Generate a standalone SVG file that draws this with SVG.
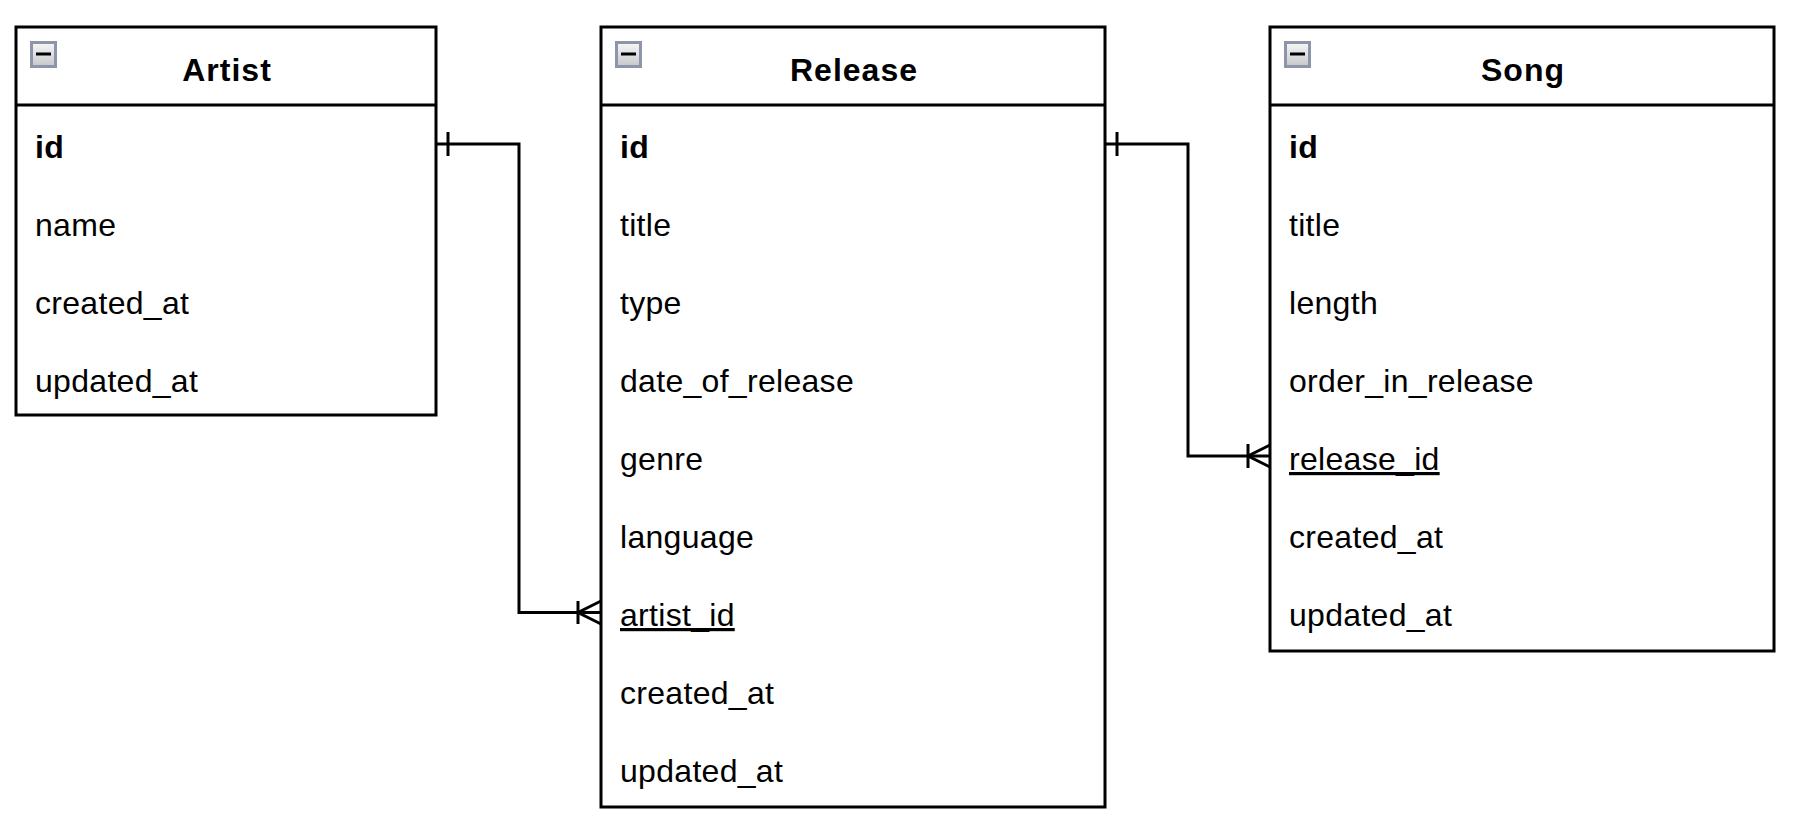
<svg xmlns="http://www.w3.org/2000/svg" width="1798" height="828" viewBox="0 0 1798 828">
  <style>
    .box { fill: #ffffff; stroke: #000000; stroke-width: 3; }
    .sep { stroke: #000000; stroke-width: 3; }
    .title { font-family: "Liberation Sans", Arial, sans-serif; font-size: 32px; font-weight: bold; fill: #000; text-anchor: middle; letter-spacing: 1px; }
    .field { font-family: "Liberation Sans", Arial, sans-serif; font-size: 32px; fill: #000; letter-spacing: 0.3px; }
    .pk { font-weight: bold; }
    .fk { text-decoration: underline; }
    .icon { fill: url(#iconGrad); stroke: #8c96a8; stroke-width: 3; }
    .minus { fill: #000; }
    .conn { fill: none; stroke: #000; stroke-width: 3; }
  </style>
  <defs>
    <linearGradient id="iconGrad" x1="0" y1="0" x2="0" y2="1">
      <stop offset="0" stop-color="#f7f7f7"/>
      <stop offset="1" stop-color="#c6c7cc"/>
    </linearGradient>
  </defs>
  <rect width="1798" height="828" fill="#ffffff"/>

  <g id="artist">
    <rect class="box" x="16" y="27" width="420" height="388"/>
    <line class="sep" x1="16" y1="105" x2="436" y2="105"/>
    <rect class="icon" x="31.5" y="42.5" width="24" height="24"/>
    <rect class="minus" x="36" y="52.5" width="15" height="3"/>
    <text class="title" x="227" y="81">Artist</text>
    <text class="field pk" x="35" y="158">id</text>
    <text class="field" x="35" y="236">name</text>
    <text class="field" x="35" y="314">created_at</text>
    <text class="field" x="35" y="392">updated_at</text>
  </g>

  <g id="release">
    <rect class="box" x="601" y="27" width="504" height="780"/>
    <line class="sep" x1="601" y1="105" x2="1105" y2="105"/>
    <rect class="icon" x="616.5" y="42.5" width="24" height="24"/>
    <rect class="minus" x="621" y="52.5" width="15" height="3"/>
    <text class="title" x="854" y="81">Release</text>
    <text class="field pk" x="620" y="158">id</text>
    <text class="field" x="620" y="236">title</text>
    <text class="field" x="620" y="314">type</text>
    <text class="field" x="620" y="392">date_of_release</text>
    <text class="field" x="620" y="470">genre</text>
    <text class="field" x="620" y="548">language</text>
    <text class="field fk" x="620" y="626">artist_id</text>
    <text class="field" x="620" y="704">created_at</text>
    <text class="field" x="620" y="782">updated_at</text>
  </g>

  <g id="song">
    <rect class="box" x="1270" y="27" width="504" height="624"/>
    <line class="sep" x1="1270" y1="105" x2="1774" y2="105"/>
    <rect class="icon" x="1285.5" y="42.5" width="24" height="24"/>
    <rect class="minus" x="1290" y="52.5" width="15" height="3"/>
    <text class="title" x="1523" y="81">Song</text>
    <text class="field pk" x="1289" y="158">id</text>
    <text class="field" x="1289" y="236">title</text>
    <text class="field" x="1289" y="314">length</text>
    <text class="field" x="1289" y="392">order_in_release</text>
    <text class="field fk" x="1289" y="470">release_id</text>
    <text class="field" x="1289" y="548">created_at</text>
    <text class="field" x="1289" y="626">updated_at</text>
  </g>

  <g id="connectors">
    <!-- Artist.id to Release.artist_id -->
    <polyline class="conn" points="436,144 519,144 519,612.5 601,612.5"/>
    <line class="conn" x1="448" y1="132" x2="448" y2="156"/>
    <line class="conn" x1="578" y1="601" x2="578" y2="624"/>
    <polyline class="conn" points="601,601 578,612.5 601,624"/>
    <!-- Release.id to Song.release_id -->
    <polyline class="conn" points="1105,144 1188,144 1188,456 1270,456"/>
    <line class="conn" x1="1117" y1="132" x2="1117" y2="156"/>
    <line class="conn" x1="1248" y1="444" x2="1248" y2="468"/>
    <polyline class="conn" points="1270,445 1248,456 1270,467"/>
  </g>
</svg>
